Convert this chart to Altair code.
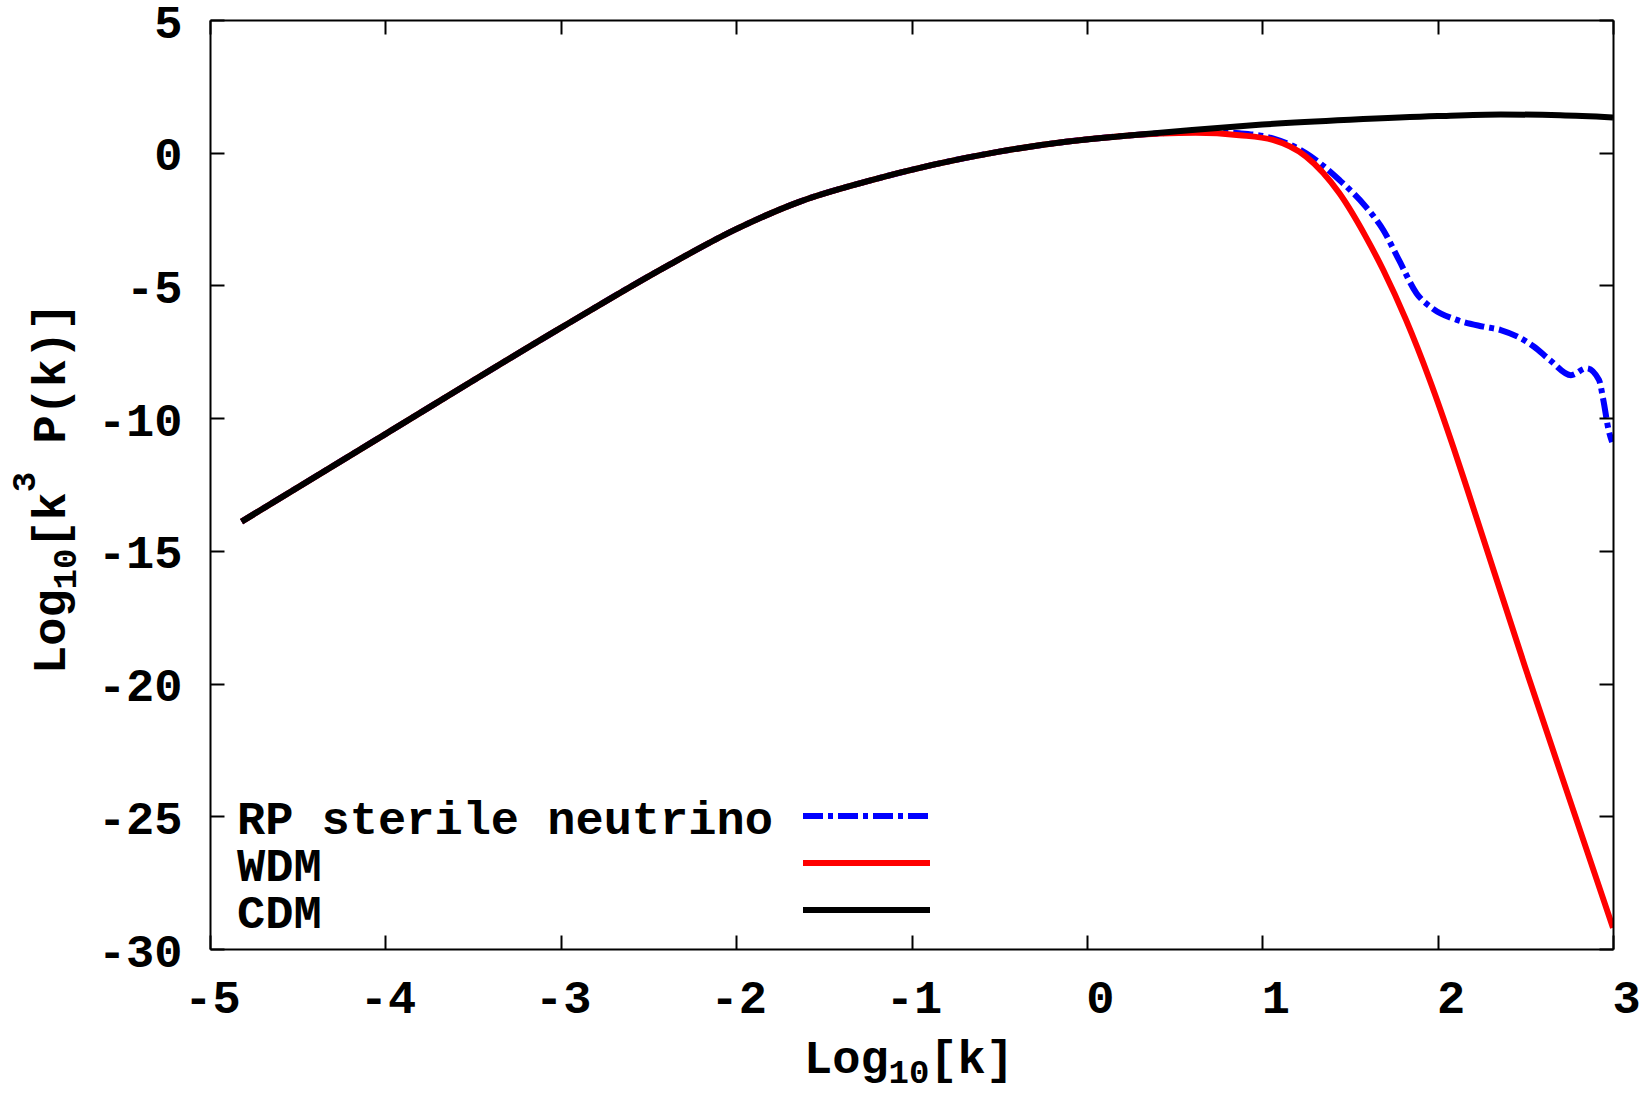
import altair as alt
import pandas as pd

# log10 k and log10 [k^3 P(k)] -- the large-scale part is common to all three spectra
K_SHARED = [-4.82, -4.0, -3.0, -2.4, -2.0, -1.64, -1.26, -0.88, -0.5, -0.12, 0.19]
P_SHARED = [-13.9, -10.6, -6.6, -4.29, -2.88, -1.85, -1.09, -0.46, 0.04, 0.41, 0.62]

K_CDM_TAIL = [0.6, 1.0, 1.5, 2.0, 2.36, 2.7, 3.0]
P_CDM_TAIL = [0.86, 1.06, 1.24, 1.38, 1.44, 1.41, 1.33]

K_WDM_TAIL = [0.42, 0.62, 0.87, 1.06, 1.25, 1.44, 1.59, 1.69, 1.82, 1.955, 2.09, 2.17,
              2.5, 2.78, 3.0]
P_WDM_TAIL = [0.72, 0.75, 0.66, 0.48, -0.15, -1.53, -3.16, -4.42, -6.3, -8.56, -11.1, -12.7,
              -19.4, -24.9, -29.2]

K_RP_TAIL = [0.42, 0.65, 0.87, 1.06, 1.25, 1.44, 1.59, 1.69, 1.78, 1.88, 1.97, 2.11, 2.26,
             2.36, 2.55, 2.64, 2.76, 2.85, 2.92, 2.945, 2.975, 2.995]
P_RP_TAIL = [0.73, 0.79, 0.73, 0.54, -0.02, -1.03, -2.03, -2.91, -4.05, -5.3, -5.86, -6.3, -6.55,
             -6.68, -7.31, -7.81, -8.38, -8.12, -8.56, -9.32, -10.45, -10.9]

SERIES = ["RP sterile neutrino", "WDM", "CDM"]
COLORS = ["#0000ff", "#ff0000", "#000000"]

X_TICKS = [-5, -4, -3, -2, -1, 0, 1, 2, 3]
Y_TICKS = [-30, -25, -20, -15, -10, -5, 0, 5]

FONT = "Liberation Mono"
FS = 47
SUB = 34
ADV = 0.6  # monospace advance, in em

W, H = 1403, 929


def frame(k, p):
    return pd.DataFrame({"k": k, "p": p})


df_rp = frame(K_SHARED + K_RP_TAIL, P_SHARED + P_RP_TAIL)
df_wdm = frame(K_SHARED + K_WDM_TAIL, P_SHARED + P_WDM_TAIL)
df_cdm = frame(K_SHARED + K_CDM_TAIL, P_SHARED + P_CDM_TAIL)

xscale = alt.Scale(domain=[-5, 3], nice=False, zero=False)
yscale = alt.Scale(domain=[-30, 5], nice=False, zero=False)

inward = alt.ExprRef(expr="-14")
common = dict(
    grid=False, title=None, domain=True, domainColor="black", domainWidth=2,
    ticks=True, tickColor="black", tickWidth=2, tickSize=inward, zindex=1,
)

x_bottom = alt.Axis(
    orient="bottom", values=X_TICKS, labelFont=FONT, labelFontWeight="bold",
    labelFontSize=FS, labelColor="black", labelPadding=77, labelBaseline="alphabetic",
    labelAlign="center", labelFlush=False, labelOverlap=False,
    labelOffset={"condition": {"test": "datum.value >= 0", "value": 13}, "value": 2},
    labelExpr="'' + datum.value", **common,
)
y_left = alt.Axis(
    orient="left", values=Y_TICKS, labelFont=FONT, labelFontWeight="bold",
    labelFontSize=FS, labelColor="black", labelPadding=42, labelBaseline="middle",
    labelAlign="right", labelOffset=3, labelFlush=False, labelOverlap=False,
    labelExpr="'' + datum.value", **common,
)
x_top = alt.Axis(orient="top", values=X_TICKS, labels=False, **common)
y_right = alt.Axis(orient="right", values=Y_TICKS, labels=False, **common)


def curve(df, color, dash=None, axes=False):
    kw = dict(color=color, strokeWidth=6, interpolate="monotone", clip=True)
    if dash:
        kw["strokeDash"] = dash
    return alt.Chart(df).mark_line(**kw).encode(
        x=alt.X("k:Q", scale=xscale, axis=x_bottom if axes else None),
        y=alt.Y("p:Q", scale=yscale, axis=y_left if axes else None),
    )


rp = curve(df_rp, COLORS[0], dash=[20, 5, 5, 5], axes=True)
wdm = curve(df_wdm, COLORS[1])
cdm = curve(df_cdm, COLORS[2])

# mirrored tick marks on the top and right edges
mirror = alt.Chart(df_cdm).mark_line(strokeOpacity=0).encode(
    x=alt.X("k:Q", scale=xscale, axis=x_top),
    y=alt.Y("p:Q", scale=yscale, axis=y_right),
)


def label(text, x, y, size=FS, angle=0):
    return alt.Chart(pd.DataFrame({"t": [text]})).mark_text(
        align="left", baseline="alphabetic", font=FONT, fontWeight="bold",
        fontSize=size, color="black", angle=angle,
    ).encode(x=alt.value(x), y=alt.value(y), text="t:N")


# pieces of an axis title: (text, font size, baseline shift, extra gap before it)
X_TITLE = [("Log", FS, 0, 0), ("10", SUB, 10, 0), ("[k]", FS, 0, 0)]
Y_TITLE = [("Log", FS, 0, 0), ("10", SUB, 11, 0), ("[k", FS, 0, 0), ("3", SUB, -30, 0),
           ("P(k)]", FS, 0, ADV * FS)]

# x-axis title: Log_10[k]
xt = []
x0 = 594
for txt, size, shift, gap in X_TITLE:
    x0 += gap
    xt.append(label(txt, x0, 1053 + shift, size))
    x0 += len(txt) * ADV * size

# y-axis title: Log_10[k^3 P(k)], reading upward
yt = []
y0 = 654
for txt, size, shift, gap in Y_TITLE:
    y0 -= gap
    yt.append(label(txt, -145 + shift, y0, size, angle=270))
    y0 -= len(txt) * ADV * size

# key: names on the left, line samples on the right
key = []
DASHES = [[20, 5, 5, 5], None, None]
for i, (name, col, dash) in enumerate(zip(SERIES, COLORS, DASHES)):
    key.append(label(name, 27, 814 + 47 * i))
    kw = dict(color=col, strokeWidth=6)
    if dash:
        kw["strokeDash"] = dash
    key.append(
        alt.Chart(pd.DataFrame({"s": [name]})).mark_rule(**kw).encode(
            x=alt.value(593), x2=alt.value(720), y=alt.value(796 + 47 * i)
        )
    )

chart = (
    alt.layer(rp, wdm, cdm, mirror, *xt, *yt, *key)
    .resolve_axis(x="independent", y="independent")
    .properties(
        width=W, height=H, background="white",
        autosize=alt.AutoSizeParams(type="none"),
        padding={"left": 210, "top": 20, "right": 33, "bottom": 146},
    )
    .configure_view(stroke=None)
)

chart.save("out.html", embed_options={"renderer": "svg", "actions": False})
